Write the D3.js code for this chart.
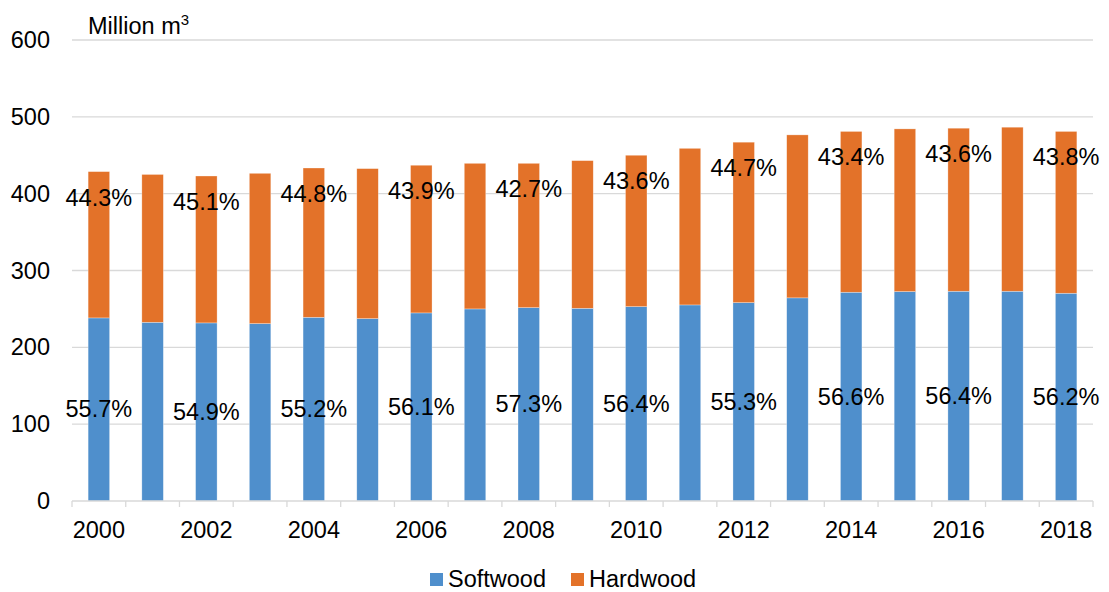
<!DOCTYPE html>
<html>
<head>
<meta charset="utf-8">
<script src="https://cdn.jsdelivr.net/npm/d3@7"></script>
<style>
  html, body { margin: 0; padding: 0; background: #fff; }
  svg { display: block; font-family: "Liberation Sans", Arial, sans-serif; }
</style>
</head>
<body>
<svg id="chart" width="1109" height="592"></svg>
<script>
const years = [2000,2001,2002,2003,2004,2005,2006,2007,2008,2009,2010,2011,2012,2013,2014,2015,2016,2017,2018];
const softwood = [238.3,232.6,231.8,230.9,239.1,237.4,244.8,250.0,251.7,250.8,253.0,255.2,258.2,264.4,271.7,272.6,273.0,273.0,270.4];
const hardwood = [190.4,192.4,191.2,195.6,194.3,195.2,192.2,189.5,187.8,192.2,197.0,203.8,208.8,212.1,209.3,211.7,212.2,213.5,210.6];
const softLabels = ["55.7%",null,"54.9%",null,"55.2%",null,"56.1%",null,"57.3%",null,"56.4%",null,"55.3%",null,"56.6%",null,"56.4%",null,"56.2%"];
const hardLabels = ["44.3%",null,"45.1%",null,"44.8%",null,"43.9%",null,"42.7%",null,"43.6%",null,"44.7%",null,"43.4%",null,"43.6%",null,"43.8%"];
const yTicks = [0,100,200,300,400,500,600];
const seriesNames = ["Softwood","Hardwood"];
const colors = ["#4f8fcc","#e37229"];

(function () {
const svg = d3.select("#chart");
const pL = 72, pR = 1093, pT = 40, pB = 501;
const fs = 23.5;

const x = d3.scaleBand().domain(years).range([pL, pR]).padding(0);
const y = d3.scaleLinear().domain([0, 600]).range([pB, pT]);
const barW = x.bandwidth() * 0.4;

// gridlines
svg.append("g").selectAll("line").data(yTicks.filter(d => d > 0)).join("line")
  .attr("x1", pL).attr("x2", pR)
  .attr("y1", d => y(d)).attr("y2", d => y(d))
  .attr("stroke", "#d9d9d9").attr("stroke-width", 1.3);

// y tick labels
svg.append("g").selectAll("text").data(yTicks).join("text")
  .attr("x", 50).attr("y", d => y(d))
  .attr("text-anchor", "end").attr("dominant-baseline", "central")
  .attr("font-size", fs).attr("fill", "#000").text(d => d);

// unit label
const unit = svg.append("text").attr("x", 88).attr("y", 34).attr("font-size", fs).attr("fill", "#000");
unit.append("tspan").text("Million m");
unit.append("tspan").attr("font-size", 15).attr("dy", -9).text("3");

// stacked data
const stackData = years.map((yr, i) => ({year: yr, Softwood: softwood[i], Hardwood: hardwood[i]}));
const stack = d3.stack().keys(seriesNames)(stackData);

svg.append("g").selectAll("g").data(stack).join("g")
  .attr("fill", (d, i) => colors[i])
  .selectAll("rect").data(d => d).join("rect")
  .attr("x", d => x(d.data.year) + (x.bandwidth() - barW) / 2)
  .attr("width", barW)
  .attr("y", d => y(d[1]))
  .attr("height", d => y(d[0]) - y(d[1]))
  .attr("stroke", "#ffffff").attr("stroke-opacity", 0.5).attr("stroke-width", 0.6);

// x axis line + ticks
svg.append("line").attr("x1", pL).attr("x2", pR).attr("y1", pB).attr("y2", pB)
  .attr("stroke", "#d9d9d9").attr("stroke-width", 1.3);
const bounds = years.map(yr => x(yr)).concat([pR]);
svg.append("g").selectAll("line").data(bounds).join("line")
  .attr("x1", d => d).attr("x2", d => d)
  .attr("y1", pB).attr("y2", pB + 6)
  .attr("stroke", "#d9d9d9").attr("stroke-width", 1.3);

// year labels
svg.append("g").selectAll("text").data(years.filter(yr => yr % 2 === 0)).join("text")
  .attr("x", d => x(d) + x.bandwidth() / 2).attr("y", 538)
  .attr("text-anchor", "middle").attr("font-size", fs).attr("fill", "#000").text(d => d);

// data labels
const lbl = svg.append("g").attr("font-size", fs).attr("fill", "#000").attr("text-anchor", "middle");
years.forEach((yr, i) => {
  const cx = x(yr) + x.bandwidth() / 2;
  if (softLabels[i]) {
    lbl.append("text").attr("x", cx).attr("y", y(softwood[i] / 2))
      .attr("dominant-baseline", "central").text(softLabels[i]);
  }
  if (hardLabels[i]) {
    lbl.append("text").attr("x", cx).attr("y", y(softwood[i] + hardwood[i]) + 26)
      .attr("dominant-baseline", "central").text(hardLabels[i]);
  }
});

// legend
const lg = svg.append("g");
const legendItems = [{name: seriesNames[0], x: 430}, {name: seriesNames[1], x: 571}];
legendItems.forEach((it, i) => {
  lg.append("rect").attr("x", it.x).attr("y", 573).attr("width", 13).attr("height", 13).attr("fill", colors[i]);
  lg.append("text").attr("x", it.x + 18).attr("y", 587).attr("font-size", fs).attr("fill", "#000").text(it.name);
});
})();
</script>
</body>
</html>
